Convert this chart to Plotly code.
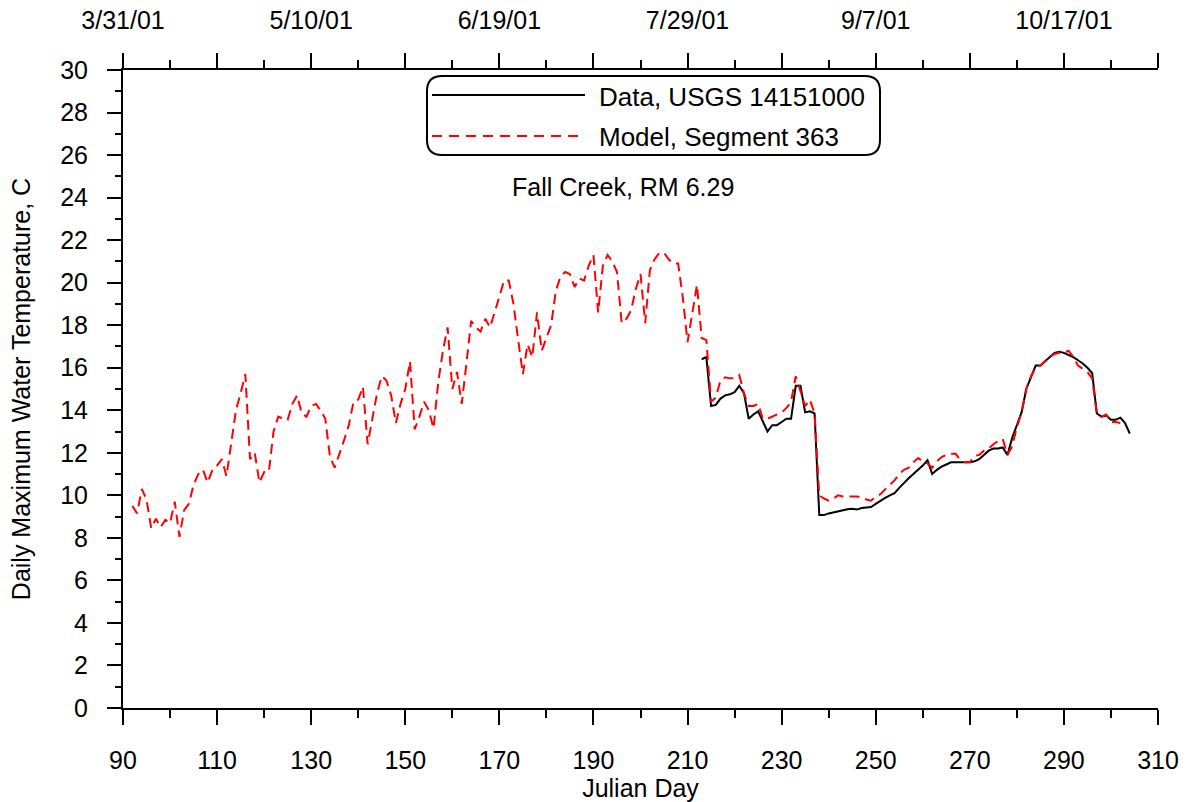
import plotly.graph_objects as go

# ---------------- data ----------------
model_days = list(range(92, 303))
model_temp = [
    9.5, 9.15, 10.3, 9.8, 8.45, 8.9, 8.5, 8.85, 8.7, 9.7,          # 92-101
    8.05, 9.3, 9.6, 10.5, 11.0, 11.2, 10.6, 11.2, 11.4, 11.7,      # 102-111
    10.9, 12.4, 14.0, 14.8, 15.7, 11.7, 12.0, 10.6, 11.1, 11.1,    # 112-121
    13.0, 13.7, 13.6, 13.55, 14.3, 14.7, 13.85, 13.7, 14.2, 14.3,  # 122-131
    14.0, 13.6, 11.8, 11.3, 11.9, 12.6, 13.3, 14.4, 14.5, 15.1,    # 132-141
    12.4, 13.7, 14.8, 15.6, 15.4, 14.7, 13.4, 14.3, 15.0, 16.3,    # 142-151
    13.1, 13.7, 14.4, 14.0, 13.15, 15.3, 16.8, 17.9, 15.0, 15.8,   # 152-161
    14.3, 16.2, 18.2, 17.9, 17.7, 18.3, 17.9, 18.6, 19.3, 20.1,    # 162-171
    20.1, 19.0, 17.3, 15.7, 17.1, 16.5, 18.6, 16.8, 17.4, 18.0,    # 172-181
    19.6, 20.3, 20.5, 20.4, 19.8, 20.2, 20.1, 20.8, 21.3, 18.6,    # 182-191
    20.8, 21.3, 21.0, 20.5, 18.1, 18.3, 18.7, 19.7, 20.4, 18.1,    # 192-201
    20.6, 21.1, 21.4, 21.4, 21.1, 20.9, 20.9, 19.3, 17.2, 18.6,    # 202-211
    19.9, 17.4, 17.3, 14.4, 14.6, 15.4, 15.55, 15.5, 15.5, 15.65,  # 212-221
    14.8, 14.2, 14.2, 14.3, 13.6, 13.6, 13.7, 13.8, 13.9, 14.1,    # 222-231
    14.4, 15.6, 14.9, 14.2, 14.5, 13.85, 10.0, 9.85, 9.75, 9.85,   # 232-241
    10.0, 9.95, 9.95, 9.95, 9.95, 9.9, 9.8, 9.75, 9.95, 10.05,     # 242-251
    10.3, 10.5, 10.7, 11.0, 11.2, 11.3, 11.55, 11.75, 11.6, 11.5,  # 252-261
    11.3, 11.6, 11.8, 11.9, 11.95, 11.95, 11.65, 11.55, 11.55, 11.85,  # 262-271
    11.9, 12.1, 12.2, 12.4, 12.55, 12.65, 11.9, 12.3, 13.2, 13.9,  # 272-281
    15.0, 15.6, 16.0, 16.1, 16.3, 16.5, 16.65, 16.7, 16.7, 16.8,   # 282-291
    16.5, 16.1, 15.95, 15.8, 15.5, 13.85, 13.7, 13.8, 13.45, 13.45, 13.4,  # 292-302
]

data_days = list(range(213, 305))
data_temp = [
    16.4, 16.5, 14.2, 14.25, 14.55, 14.7, 14.75, 14.85, 15.15, 14.8,   # 213-222
    13.6, 13.8, 13.95, 13.5, 13.0, 13.3, 13.3, 13.45, 13.6, 13.6,      # 223-232
    15.15, 15.15, 13.9, 13.95, 13.85, 9.07, 9.07, 9.15, 9.2, 9.25,     # 233-242
    9.31, 9.35, 9.37, 9.33, 9.4, 9.42, 9.45, 9.6, 9.75, 9.88,          # 243-252
    10.0, 10.1, 10.35, 10.6, 10.8, 11.0, 11.2, 11.4, 11.65, 11.0,      # 253-262
    11.2, 11.35, 11.45, 11.55, 11.55, 11.55, 11.55, 11.55, 11.6, 11.7, # 263-272
    11.9, 12.1, 12.2, 12.2, 12.25, 11.9, 12.7, 13.3, 13.9, 15.0,       # 273-282
    15.6, 16.1, 16.1, 16.3, 16.5, 16.7, 16.75, 16.7, 16.6, 16.5,       # 283-292
    16.35, 16.2, 16.0, 15.75, 13.85, 13.7, 13.75, 13.55, 13.55, 13.65, 13.4, 12.9,  # 293-304
]

x_tick_vals = list(range(90, 311, 20))
x_minor_vals = list(range(100, 311, 20))
y_tick_vals = list(range(0, 31, 2))
top_tick_vals = list(range(90, 311, 20))
top_tick_text = ["3/31/01", "", "5/10/01", "", "6/19/01", "", "7/29/01", "",
                 "9/7/01", "", "10/17/01", ""]

data_label = "Data, USGS 14151000"
model_label = "Model, Segment 363"
site_label = "Fall Creek, RM 6.29"

# ---------------- figure ----------------
FONT = "Liberation Sans, Arial, sans-serif"
FS = 25
FS_LEG = 26

L, R, T, B = 123, 1158, 70, 708
W, H = 1190, 802


def px(xp):
    return (xp - L) / (R - L)


def py(yp):
    return (B - yp) / (B - T)


fig = go.Figure()
fig.add_trace(go.Scatter(
    x=data_days, y=data_temp, mode="lines", name=data_label,
    line=dict(color="black", width=2), showlegend=False,
    xaxis="x", yaxis="y",
))
fig.add_trace(go.Scatter(
    x=model_days, y=model_temp, mode="lines", name=model_label,
    line=dict(color="#ff0000", width=2, dash="10px,6px"), showlegend=False,
    xaxis="x2", yaxis="y",
))

axis_common = dict(
    showline=True, linecolor="black", linewidth=2,
    ticks="outside", tickcolor="black", tickwidth=2,
    showgrid=False, zeroline=False, automargin=False,
    tickfont=dict(family=FONT, size=FS, color="black"),
)

fig.update_layout(
    width=W, height=H,
    margin=dict(l=L, r=W - R, t=T, b=H - B, pad=0, autoexpand=False),
    paper_bgcolor="white", plot_bgcolor="white",
    font=dict(family=FONT, size=FS, color="black"),
    xaxis=dict(
        range=[90, 310], tickmode="array", tickvals=x_tick_vals,
        ticklen=15, ticklabelstandoff=14,
        minor=dict(tickmode="array", tickvals=x_minor_vals, ticklen=8,
                   tickwidth=2, tickcolor="black", ticks="outside"),
        title=dict(text="Julian Day", font=dict(family=FONT, size=FS), standoff=6),
        **axis_common,
    ),
    xaxis2=dict(
        range=[90, 310], overlaying="x", side="top", anchor="y",
        tickmode="array", tickvals=top_tick_vals, ticktext=top_tick_text,
        ticklen=15, ticklabelstandoff=14,
        minor=dict(tickmode="array", tickvals=x_minor_vals, ticklen=8,
                   tickwidth=2, tickcolor="black", ticks="outside"),
        **axis_common,
    ),
    yaxis=dict(
        range=[0, 30], tickmode="array", tickvals=y_tick_vals,
        ticklen=14, ticklabelstandoff=14,
        minor=dict(tickmode="linear", tick0=0, dtick=1, ticklen=6,
                   tickwidth=2, tickcolor="black", ticks="outside"),
        title=dict(text="Daily Maximum Water Temperature, C",
                   font=dict(family=FONT, size=FS), standoff=22),
        **axis_common,
    ),
)

# ---- manual legend with rounded box ----
x0, x1, y0, y1, r = 427, 880, 76, 155, 15
rx, ry = r / (R - L), r / (B - T)
X0, X1, Y0, Y1 = px(x0), px(x1), py(y0), py(y1)
path = (f"M{X0 + rx},{Y0} L{X1 - rx},{Y0} Q{X1},{Y0} {X1},{Y0 - ry} "
        f"L{X1},{Y1 + ry} Q{X1},{Y1} {X1 - rx},{Y1} "
        f"L{X0 + rx},{Y1} Q{X0},{Y1} {X0},{Y1 + ry} "
        f"L{X0},{Y0 - ry} Q{X0},{Y0} {X0 + rx},{Y0} Z")
fig.add_shape(type="path", path=path, xref="paper", yref="paper",
              line=dict(color="black", width=2), fillcolor="rgba(0,0,0,0)")
fig.add_shape(type="line", xref="paper", yref="paper",
              x0=px(432), x1=px(585), y0=py(95), y1=py(95),
              line=dict(color="black", width=2))
fig.add_shape(type="line", xref="paper", yref="paper",
              x0=px(432), x1=px(585), y0=py(136), y1=py(136),
              line=dict(color="#ff0000", width=2, dash="10px,7px"))
fig.add_annotation(x=px(597), y=py(97), xref="paper", yref="paper",
                   text=data_label, showarrow=False, xanchor="left", yanchor="middle",
                   font=dict(family=FONT, size=FS_LEG, color="black"))
fig.add_annotation(x=px(597), y=py(137), xref="paper", yref="paper",
                   text=model_label, showarrow=False, xanchor="left", yanchor="middle",
                   font=dict(family=FONT, size=FS_LEG, color="black"))
fig.add_annotation(x=px(623), y=py(187), xref="paper", yref="paper",
                   text=site_label, showarrow=False, xanchor="center", yanchor="middle",
                   font=dict(family=FONT, size=FS, color="black"))

fig.write_html("out.html", config={"displayModeBar": False},
               post_script="document.body.style.margin='0';")
